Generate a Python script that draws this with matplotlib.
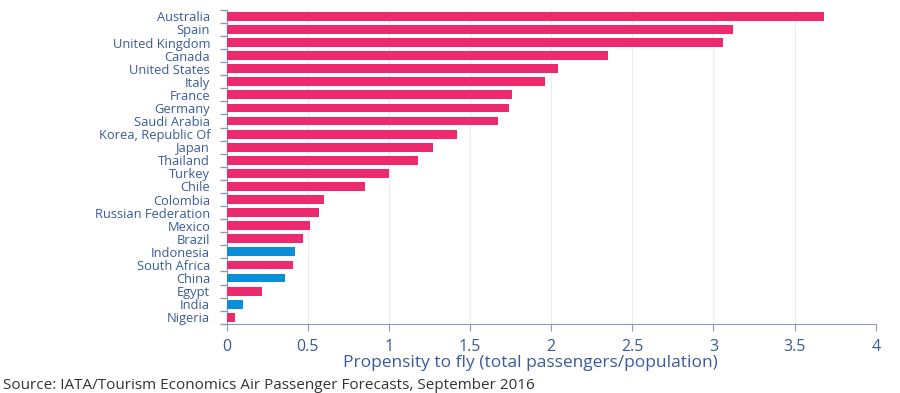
import numpy as np
import matplotlib
matplotlib.use("Agg")
from matplotlib import pyplot as plt
from matplotlib.ticker import FixedLocator

countries = ["Australia", "Spain", "United Kingdom", "Canada", "United States", "Italy",
             "France", "Germany", "Saudi Arabia", "Korea, Republic Of", "Japan", "Thailand",
             "Turkey", "Chile", "Colombia", "Russian Federation", "Mexico", "Brazil",
             "Indonesia", "South Africa", "China", "Egypt", "India", "Nigeria"]
propensity = [3.68, 3.12, 3.06, 2.35, 2.04, 1.96, 1.76, 1.74, 1.67, 1.42, 1.27, 1.18,
              1.00, 0.85, 0.60, 0.57, 0.51, 0.47, 0.42, 0.41, 0.36, 0.22, 0.10, 0.05]
highlight = ["Indonesia", "China", "India"]

pink = "#EE2A6E"
blue = "#0A8ED8"
txt = "#3A5A9C"
axcol = "#8A9AB8"

plt.rcParams["font.family"] = ["Open Sans", "DejaVu Sans"]

fig = plt.figure(figsize=(9, 3.93), dpi=100)
ax = fig.add_axes([0.252, 0.176, 0.721, 0.799])

y = np.arange(len(countries))
colors = [blue if c in highlight else pink for c in countries]
ax.barh(y, propensity, height=0.68, color=colors, zorder=3)

ax.set_ylim(len(countries) - 0.5, -0.5)
ax.set_xlim(0, 4)
ax.set_xticks(np.arange(0, 4.01, 0.5))
ax.set_xticklabels(["0", "0.5", "1", "1.5", "2", "2.5", "3", "3.5", "4"])
ax.xaxis.grid(True, color="#EBEBEB", linewidth=0.8, zorder=0)

ax.set_yticks(y)
ax.set_yticklabels(countries)
ax.yaxis.set_minor_locator(FixedLocator(np.arange(-0.5, len(countries), 1)))
ax.tick_params(axis="y", which="major", length=0, pad=12, labelsize=9.3, labelcolor=txt)
ax.tick_params(axis="y", which="minor", length=5, color=axcol, width=1)
ax.tick_params(axis="x", length=5, color=axcol, labelsize=11.5, labelcolor=txt, pad=6)

for s in ["top", "right"]:
    ax.spines[s].set_visible(False)
ax.spines["left"].set_color(axcol)
ax.spines["bottom"].set_color(axcol)

# x label sits a bit left of centre in the original
ax.set_xlabel("Propensity to fly (total passengers/population)", fontsize=12.5, color=txt)
ax.xaxis.set_label_coords(0.468, -0.098)
fig.text(0.003, 0.01, "Source: IATA/Tourism Economics Air Passenger Forecasts, September 2016",
         fontsize=11, color="#333333")

fig.savefig("out.png", dpi=100)
